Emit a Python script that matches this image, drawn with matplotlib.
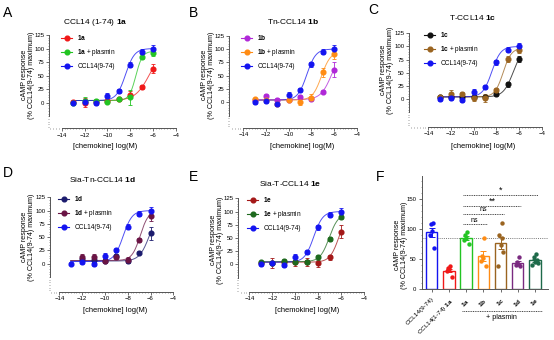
import numpy as np
import matplotlib
matplotlib.use("Agg")
import matplotlib.pyplot as plt
from matplotlib.lines import Line2D
from matplotlib.ticker import MultipleLocator

plt.rcParams['font.family'] = ['Liberation Sans', 'DejaVu Sans']
plt.rcParams['mathtext.fontset'] = 'custom'
plt.rcParams['mathtext.rm'] = 'Liberation Sans'
plt.rcParams['mathtext.bf'] = 'Liberation Sans:bold'

# ---------------- data ----------------
log_conc = [-13, -12, -11, -10, -9, -8, -7, -6]

# CCL14(9-74) reference response in each panel (% of max)
ref_A = [0, 2, 0, 13, 22, 70, 94, 100]
ref_B = [0, 3, -3, 14, 23, 71, 95, 100]
ref_C = [0, 2, -1, 14, 23, 70, 94, 100]
ref_D = [0, 4, 0, 15, 26, 70, 94, 99]
ref_E = [0, 2, -1, 14, 23, 70, 94, 100]
ref_err = [3, 4, 4, 5, 4, 5, 5, 7]

# 1a
cA_test = [2, 0, 2, 4, 6, 15, 29, 63]
cA_test_err = [3, 8, 3, 2, 2, 6, 3, 8]
cA_pl = [-1, 4, 3, 1, 6, 10, 85, 92]
cA_pl_err = [3, 6, 3, 2, 2, 14, 5, 6]
# 1b
cB_test = [5, 11, 5, 5, 10, 7, 20, 61]
cB_test_err = [3, 4, 3, 2, 3, 3, 3, 14]
cB_pl = [6, 5, -3, 5, 0, 9, 56, 90]
cB_pl_err = [3, 3, 4, 3, 6, 6, 8, 8]
# 1c
cC_test = [4, 4, 3, 3, 4, 9, 28, 76]
cC_test_err = [3, 3, 3, 3, 3, 4, 5, 6]
cC_pl = [4, 10, 9, 1, 2, 17, 76, 94]
cC_pl_err = [3, 7, 5, 4, 8, 4, 5, 6]
# 1d
cD_test = [np.nan, 9, 7, 5, 14, 6, 21, 57]
cD_test_err = [0, 5, 4, 3, 4, 4, 3, 12]
cD_pl = [np.nan, 12, 13, 6, 13, 7, 44, 89]
cD_pl_err = [0, 7, 5, 4, 4, 5, 4, 8]
# 1e
cE_test = [3, 2, 5, 4, 4, 3, 13, 62]
cE_test_err = [3, 9, 4, 7, 7, 8, 4, 12]
cE_pl = [4, 3, 7, 5, 5, 13, 48, 90]
cE_pl_err = [3, 4, 3, 3, 3, 5, 4, 5]

# four-parameter logistic fits: bottom, top, logEC50, Hill slope
fit_ref = [4, 100, -8.4, 1.1]
fitA_test = [4, 100, -6.3, 0.7]
fitA_pl = [4, 95, -7.5, 1.5]
fitB_test = [5, 100, -6.2, 0.9]
fitB_pl = [4, 95, -7.1, 1.1]
fitC_test = [4, 100, -6.5, 1.0]
fitC_pl = [4, 97, -7.4, 1.2]
fitD_test = [5, 100, -6.1, 1.0]
fitD_pl = [6, 100, -6.9, 1.2]
fitE_test = [4, 100, -6.2, 1.1]
fitE_pl = [5, 96, -7.05, 1.1]

# Panel F: single-dose responses (% CCL14(9-74) maximum)
bar_labels = ["CCL14(9-74)", r"CCL14(1-74) $\bf{1a}$", r"$\bf{1a}$",
              r"$\bf{1b}$", r"$\bf{1c}$", r"$\bf{1d}$", r"$\bf{1e}$"]
pts_ref = [110, 108, 97, 90, 68]
pts_1a = [38, 35, 33, 30, 20]
pts_1a_pl = [95, 90, 86, 82, 76]
pts_1b_pl = [86, 55, 52, 47, 38]
pts_1c_pl = [110, 90, 85, 74, 62, 38]
pts_1d_pl = [54, 45, 42, 40, 39]
pts_1e_pl = [58, 54, 48, 45, 43, 41]
sig_targets = [3, 4, 5, 6]
sig_heights = [108, 125, 139, 157]
sig_text = ["ns", "ns", "**", "*"]

# ---------------- colours ----------------
BLUE = '#1414F0'
RED = '#F01818'
GREEN = '#22C422'
PURPLE = '#B028D8'
ORANGE = '#FF8C14'
BLACK = '#111111'
BROWN = '#9A6420'
NAVY = '#1C1C6E'
MAROON = '#6A1444'
DKRED = '#A41818'
DKGREEN = '#1E6A1E'
F_PURPLE = '#7A2A80'
F_TEAL = '#1E6A4A'
AXC = '#555555'

TICK_FS = 4.3
LAB_FS = 5.1
LEG_FS = 4.7
TITLE_FS = 6.0

W, H = 554, 340
fig = plt.figure(figsize=(W / 100, H / 100), dpi=100)


def logistic(x, p):
    b, t, ec, h = p
    return b + (t - b) / (1 + 10 ** ((ec - x) * h))


def dose_panel(yaxis_x, x14, x4, y125, y0, xaxis_y, series, leg_xy,
               title, title_xy, letter_xy, xlabel_xy, ylabel_xy):
    sx = (x4 - x14) / 10.0
    sy = (y0 - y125) / 125.0
    ax = fig.add_axes([yaxis_x / W, 1 - xaxis_y / H,
                       (x4 - yaxis_x) / W, (xaxis_y - y125) / H])
    ax.set_xlim(-14 - (x14 - yaxis_x) / sx, -4)
    ax.set_ylim(-(xaxis_y - y0) / sy, 125)
    for s in ['top', 'right']:
        ax.spines[s].set_visible(False)
    for s in ['left', 'bottom']:
        ax.spines[s].set_color(AXC)
        ax.spines[s].set_linewidth(0.7)
    ax.spines['left'].set_bounds(-25, 125)
    ax.spines['bottom'].set_bounds(-14, -4)
    ax.set_xticks([-14, -12, -10, -8, -6, -4])
    ax.set_yticks([0, 25, 50, 75, 100, 125])
    ax.xaxis.set_minor_locator(MultipleLocator(0.25))
    ax.yaxis.set_minor_locator(MultipleLocator(5))
    ax.tick_params(which='major', length=2.2, width=0.6, color=AXC,
                   labelsize=TICK_FS, pad=1.2)
    ax.tick_params(which='minor', length=1.0, width=0.4, color=AXC)
    ax.patch.set_alpha(0)

    xs = np.linspace(-13, -6, 200)
    handles, labels = [], []
    for y, err, fit, col, lab in series:
        ax.plot(xs, logistic(xs, fit), color=col, lw=0.7, alpha=0.75,
                clip_on=False)
        ax.errorbar(log_conc, y, yerr=err, fmt='o', ms=3.4, color=col,
                    ecolor=col, elinewidth=0.6, capsize=1.6, capthick=0.6,
                    clip_on=False)
        handles.append(Line2D([], [], color=col, lw=0.8, marker='o', ms=3.4))
        labels.append(lab)
    ax.legend(handles, labels, loc='upper left',
              bbox_to_anchor=((leg_xy[0] - yaxis_x) / (x4 - yaxis_x),
                              1 - (leg_xy[1] - y125) / (xaxis_y - y125)),
              frameon=False, fontsize=LEG_FS, handlelength=1.7,
              handletextpad=0.8, labelspacing=0.75, borderpad=0,
              borderaxespad=0)
    fig.text(title_xy[0] / W, 1 - title_xy[1] / H, title, ha='center',
             va='center', fontsize=TITLE_FS)
    fig.text(letter_xy[0] / W, 1 - letter_xy[1] / H, letter_xy[2],
             ha='center', va='center', fontsize=10)
    fig.text(xlabel_xy[0] / W, 1 - xlabel_xy[1] / H, "[chemokine] log(M)",
             ha='center', va='center', fontsize=LAB_FS + 0.3)
    fig.text(ylabel_xy[0] / W, 1 - ylabel_xy[1] / H,
             "cAMP response\n(% CCL14(9-74) maximum)", rotation=90,
             ha='center', va='center', fontsize=LAB_FS, multialignment='center',
             linespacing=0.95)
    return ax


# panel A
dose_panel(49, 61.7, 175.7, 35, 102.7, 128.3,
           [(cA_test, cA_test_err, fitA_test, RED, r"$\bf{1a}$"),
            (cA_pl, cA_pl_err, fitA_pl, GREEN, r"$\bf{1a}$ + plasmin"),
            (ref_A, ref_err, fit_ref, BLUE, "CCL14(9-74)")],
           (61, 33), r"CCL14 (1-74) $\bf{1a}$", (95, 22), (8, 13, "A"),
           (105, 146), (28, 75))
# panel B
dose_panel(229.3, 243.3, 356.7, 35.7, 102.3, 127.7,
           [(cB_test, cB_test_err, fitB_test, PURPLE, r"$\bf{1b}$"),
            (cB_pl, cB_pl_err, fitB_pl, ORANGE, r"$\bf{1b}$ + plasmin"),
            (ref_B, ref_err, fit_ref, BLUE, "CCL14(9-74)")],
           (241, 33), r"Tn-CCL14 $\bf{1b}$", (293, 21), (193, 13, "B"),
           (302, 146), (208, 75))
# panel C
dose_panel(409.3, 428.3, 541.7, 33.3, 99, 126.7,
           [(cC_test, cC_test_err, fitC_test, BLACK, r"$\bf{1c}$"),
            (cC_pl, cC_pl_err, fitC_pl, BROWN, r"$\bf{1c}$ + plasmin"),
            (ref_C, ref_err, fit_ref, BLUE, "CCL14(9-74)")],
           (424, 30), r"T-CCL14 $\bf{1c}$", (473, 18), (373, 10, "C"),
           (483, 146), (387, 70))
# panel D
dose_panel(50, 59.3, 173.3, 197.3, 263.7, 291.7,
           [(cD_test, cD_test_err, fitD_test, NAVY, r"$\bf{1d}$"),
            (cD_pl, cD_pl_err, fitD_pl, MAROON, r"$\bf{1d}$ + plasmin"),
            (ref_D, ref_err, fit_ref, BLUE, "CCL14(9-74)")],
           (58, 194), r"Sia-Tn-CCL14 $\bf{1d}$", (103, 180), (8, 173, "D"),
           (115, 310), (28, 237))
# panel E
dose_panel(238.3, 249.3, 364.3, 198.3, 264.3, 291.7,
           [(cE_test, cE_test_err, fitE_test, DKRED, r"$\bf{1e}$"),
            (cE_pl, cE_pl_err, fitE_pl, DKGREEN, r"$\bf{1e}$ + plasmin"),
            (ref_E, ref_err, fit_ref, BLUE, "CCL14(9-74)")],
           (247, 195), r"Sia-T-CCL14 $\bf{1e}$", (290, 183), (193, 177, "E"),
           (307, 311), (217, 240))

# ---------------- panel F ----------------
groups = [pts_ref, pts_1a, pts_1a_pl, pts_1b_pl, pts_1c_pl, pts_1d_pl, pts_1e_pl]
bar_cols = [BLUE, RED, GREEN, ORANGE, BROWN, F_PURPLE, F_TEAL]
fx0, fsx = 431.7, 17.2
fy0, fsy = 289.3, 0.602
f_left, f_right, f_top = 421.7, 548, 176
axF = fig.add_axes([f_left / W, 1 - fy0 / H, (f_right - f_left) / W,
                    (fy0 - f_top) / H])
axF.set_xlim(-(fx0 - f_left) / fsx, (f_right - fx0) / fsx)
axF.set_ylim(0, (fy0 - f_top) / fsy)
axF.patch.set_alpha(0)
for s in ['top', 'right']:
    axF.spines[s].set_visible(False)
for s in ['left', 'bottom']:
    axF.spines[s].set_color(AXC)
    axF.spines[s].set_linewidth(0.7)

xpos = np.arange(len(groups))
means = [np.mean(g) for g in groups]
sems = [np.std(g, ddof=1) / np.sqrt(len(g)) for g in groups]
axF.bar(xpos, means, width=0.66, facecolor='white', edgecolor=bar_cols,
        linewidth=1.0, zorder=2)
for i, g in enumerate(groups):
    n = len(g)
    offs = np.array([(-1) ** k * (0.06 + 0.05 * (k // 2)) for k in range(n)])
    offs[n // 2] = 0.0
    axF.scatter(i + offs, g, s=10, color=bar_cols[i], zorder=3, linewidths=0,
                clip_on=False)
    axF.errorbar(i, means[i], yerr=sems[i], color=bar_cols[i], lw=0.7,
                 capsize=2, capthick=0.7, zorder=4)

axF.axhline(means[2], color='#777777', lw=0.7, ls=(0, (1, 1.2)), zorder=1)
for tgt, hgt, txt in zip(sig_targets, sig_heights, sig_text):
    x_a, x_b = 1.8, tgt + 0.2
    axF.plot([x_a, x_b], [hgt, hgt], color='#444444', lw=0.7,
             ls=(0, (1, 0.8)), clip_on=False)
    axF.text((x_a + x_b) / 2, hgt + (7 if txt == 'ns' else 8), txt,
             ha='center', va='center', fontsize=5.0 if txt == 'ns' else 6.5,
             clip_on=False)

axF.set_yticks([0, 50, 100, 150])
axF.yaxis.set_minor_locator(MultipleLocator(10))
axF.set_xticks(xpos)
axF.set_xticklabels(bar_labels, rotation=45, ha='right',
                    rotation_mode='anchor', fontsize=4.6)
axF.tick_params(which='major', length=2.2, width=0.6, color=AXC,
                labelsize=TICK_FS, pad=1.5)
axF.tick_params(axis='x', pad=3, labelsize=4.6)
axF.tick_params(which='minor', length=1.0, width=0.4, color=AXC)

# "+ plasmin" bracket under treated groups
axF.plot([1.74, 6.4], [-35.5, -35.5], color='#444444', lw=0.7,
         ls=(0, (1, 0.8)), clip_on=False)
axF.text(4.05, -47, "+ plasmin", ha='center', va='center', fontsize=LAB_FS,
         clip_on=False)

fig.text(380 / W, 1 - 177 / H, "F", ha='center', va='center', fontsize=10)
fig.text(401 / W, 1 - 245 / H, "cAMP response\n(% CCL14(9-74) maximum)",
         rotation=90, ha='center', va='center', fontsize=LAB_FS,
         multialignment='center', linespacing=0.95)

fig.savefig("out.png", dpi=100)
